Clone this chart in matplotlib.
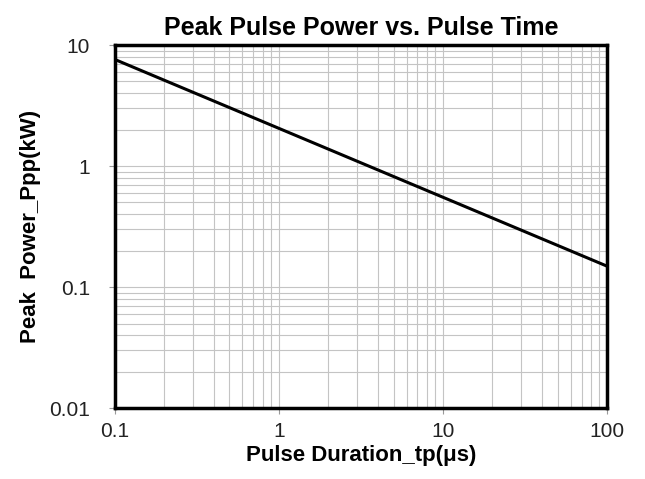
import matplotlib
matplotlib.use("Agg")
import matplotlib.pyplot as plt
from matplotlib.ticker import LogLocator, FixedLocator, FixedFormatter, NullFormatter

plt.rcParams['font.family'] = ['Liberation Sans', 'DejaVu Sans']

# curve endpoints (straight line on log-log)
pulse_time = [0.1, 100]
peak_power = [7.6, 0.149]

x_ticks = [0.1, 1, 10, 100]
x_labels = ['0.1', '1', '10', '100']
y_ticks = [0.01, 0.1, 1, 10]
y_labels = ['0.01', '0.1', '1', '10']

fig = plt.figure(figsize=(6.45, 4.79), dpi=100)
ax = fig.add_axes([0.178, 0.148, 0.763, 0.758])

ax.plot(pulse_time, peak_power, color='black', lw=2.2, zorder=3)

ax.set_xscale('log')
ax.set_yscale('log')
ax.set_xlim(0.1, 100)
ax.set_ylim(0.01, 10)

ax.xaxis.set_major_locator(FixedLocator(x_ticks))
ax.xaxis.set_major_formatter(FixedFormatter(x_labels))
ax.yaxis.set_major_locator(FixedLocator(y_ticks))
ax.yaxis.set_major_formatter(FixedFormatter(y_labels))
ax.xaxis.set_minor_locator(LogLocator(base=10, subs=range(2, 10)))
ax.yaxis.set_minor_locator(LogLocator(base=10, subs=range(2, 10)))
ax.xaxis.set_minor_formatter(NullFormatter())
ax.yaxis.set_minor_formatter(NullFormatter())

ax.grid(True, which='both', color='#c4c4c4', lw=0.8, zorder=0)
ax.tick_params(which='major', direction='out', length=4, width=0.8, color='#999999',
               labelsize=15, pad=6, labelcolor='#222222')
ax.tick_params(axis='y', which='major', pad=14)
ax.tick_params(which='minor', length=0)

for s in ax.spines.values():
    s.set_linewidth(2.5)
    s.set_color('black')

ax.set_title('Peak Pulse Power vs. Pulse Time', fontsize=18, fontweight='bold', pad=7)
ax.set_xlabel('Pulse Duration_tp(\u03bcs)', fontsize=16, fontweight='bold', labelpad=3)
ax.set_ylabel('Peak  Power_Ppp(kW)', fontsize=16, fontweight='bold', labelpad=6)

fig.savefig('out.png', dpi=100)
